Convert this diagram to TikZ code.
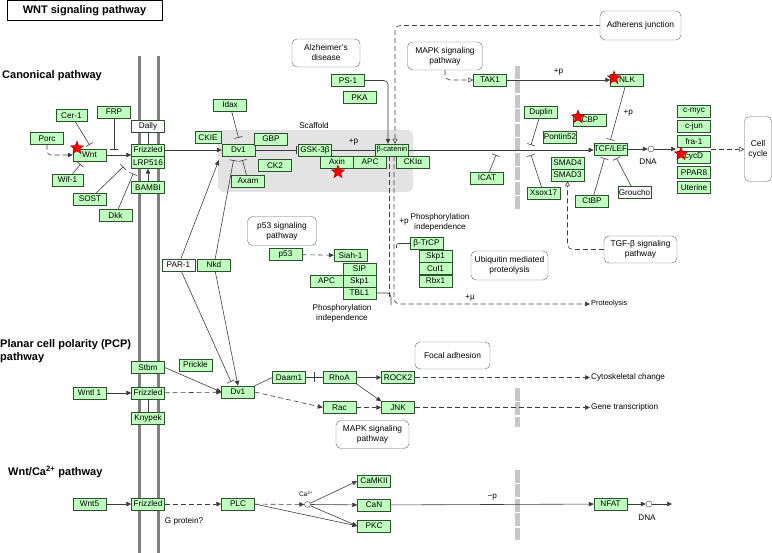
\documentclass[tikz,border=0pt]{standalone}
\usepackage{fontspec}
\setmainfont{Liberation Sans}
\usetikzlibrary{arrows.meta,shapes.geometric,calc}
\definecolor{genefill}{RGB}{191,255,191}
\definecolor{geneline}{RGB}{45,80,45}
\definecolor{linkgray}{RGB}{60,60,60}

\begin{document}
\begin{tikzpicture}[x=1pt, y=-1pt, >={Triangle[length=5pt,width=4.5pt]}, font=\fontsize{8.2}{9.8}\selectfont]

    \tikzset{%
    gene/.style={
        draw=geneline,
        fill=genefill,
        minimum width=33pt,
        minimum height=12pt,
        inner sep=0pt
        },
    other/.style={gene, fill=white},
    map/.style={draw=gray!80!black, fill=white, rounded corners=5pt, align=center, inner sep=1pt, font=\fontsize{8.4}{10}\selectfont},
    note/.style={inner sep=1pt, align=center},
    heading/.style={font=\bfseries\fontsize{11}{13}\selectfont, align=left, inner sep=0pt},
    link/.style={draw=linkgray, line width=0.6pt},
    act/.style={link, ->},
    dact/.style={act, dash pattern=on 5pt off 3pt},
    inh/.style={link, -{Bar[width=8pt]}},
    assoc/.style={link, dash pattern=on 5pt off 3pt, -{Triangle[open,length=5pt,width=5pt]}},
    dnadot/.style={circle, draw=linkgray, fill=white, minimum size=6pt, inner sep=0pt},
    tick/.style={fill=linkgray, minimum width=0.7pt, minimum height=10pt, inner sep=0pt},
    redstar/.style={star, star points=5, star point ratio=2.4, fill=red, draw=red!60!black, minimum size=14pt, inner sep=0pt},
    membrane/.style={draw=gray, line width=3pt},
    nucleus/.style={draw=gray!45, line width=5pt, dash pattern=on 13pt off 1.5pt},
    }

    \useasboundingbox (0,0) rectangle (772,553);

    % Titles
    \node[draw, line width=1pt, minimum width=155pt, minimum height=20pt, font=\bfseries\fontsize{11}{13}\selectfont] (title) at (84.5,11) {WNT signaling pathway};
    \node[heading, anchor=west] (canon) at (2,76) {Canonical pathway};
    \node[heading, anchor=north west] (pcp) at (0,339) {Planar cell polarity (PCP)\\pathway};
    \node[heading, anchor=west] (capath) at (8,471.5) {Wnt/Ca\textsuperscript{2+} pathway};

    % Cell membrane and nuclear membrane
    \draw[membrane] (139,56) -- (139,553);
    \draw[membrane] (158,56) -- (158,553);
    \foreach \a/\b in {66/210, 388/427, 470/540}
    \draw[nucleus] (517,\a) -- (517,\b);

    % Scaffold
    \node[fill=gray!22, rounded corners=6pt, minimum width=195pt, minimum height=62pt] (scaffold) at (315.5,161) {};
    \node[note] (scaftxt) at (314,126) {Scaffold};

    % Canonical pathway
    \node[gene] (porc) at (47,138.5) {Porc};
    \node[gene, minimum width=31pt] (cer) at (71.5,115.5) {Cer-1};
    \node[gene] (frp) at (114,112) {FRP};
    \node[gene] (wnt) at (89.5,155) {Wnt};
    \node[gene, minimum width=31pt] (wif) at (67.5,180) {Wif-1};
    \node[gene] (sost) at (90,199) {SOST};
    \node[gene] (dkk) at (115.5,215.5) {Dkk};
    \node[other] (dally) at (148,126.5) {Dally};
    \node[gene] (fzd) at (148,150) {Frizzled};
    \node[gene] (lrp) at (148,162.5) {LRP516};
    \node[gene] (bambi) at (148,187.5) {BAMBI};
    \node[gene, minimum width=26pt] (ckie) at (208,137.5) {CKIE};
    \node[gene] (dvl) at (238.5,150) {Dv1};
    \node[gene] (idax) at (230,105) {Idax};
    \node[gene] (gbp) at (271,139) {GBP};
    \node[gene] (ck2) at (275,165.5) {CK2};
    \node[gene] (axam) at (248,181) {Axam};
    \node[gene] (gsk) at (315,150) {GSK-3β};
    \node[gene] (axin) at (337,162) {Axin};
    \node[gene] (apc) at (370,162) {APC};
    \node[gene, font=\fontsize{7.4}{8}\selectfont] (bcat) at (392,150) {β-catenin};
    \node[gene] (ckia) at (413,162) {CKIα};
    \node[gene] (ps1) at (348,80.5) {PS-1};
    \node[gene] (pka) at (359.5,97.5) {PKA};
    \node[map, minimum width=68pt, minimum height=28pt] (alz) at (326,53) {Alzheimer's\\disease};
    \node[map, minimum width=75pt, minimum height=28pt] (mapka) at (445,56) {MAPK signaling\\pathway};
    \node[gene] (tak1) at (490,80) {TAK1};
    \node[map, minimum width=81pt, minimum height=29pt] (adh) at (640.5,25.5) {Adherens junction};
    \node[gene] (nlk) at (627,80) {NLK};
    \node[gene] (duplin) at (541,112) {Duplin};
    \node[gene] (cbp) at (590,120) {CBP};
    \node[gene] (pontin) at (560,137) {Pontin52};
    \node[gene] (tcf) at (610.5,149) {TCF/LEF};
    \node[gene] (icat) at (487,178) {ICAT};
    \node[gene] (xsox) at (543.5,193) {Xsox17};
    \node[gene] (smad4) at (567.5,163) {SMAD4};
    \node[gene] (smad3) at (567.5,175) {SMAD3};
    \node[gene] (ctbp) at (592,201) {CtBP};
    \node[other] (groucho) at (634.5,192.5) {Groucho};
    \node[dnadot] (dna1) at (651,149) {};
    \node[note] (dnatxt1) at (648,162) {DNA};

    % Target genes
    \foreach \g [count=\i] in {c-myc,c-jun,fra-1,cycD,PPAR8,Uterine}
    \node[gene] (tgt-\i) at (694,{95.7+15.3*\i}) {\g};
    \node[map, minimum width=27pt, minimum height=65pt] (cell) at (758,149) {Cell\\cycle};

    \node[other] (par1) at (178.5,265) {PAR-1};
    \node[gene] (nkd) at (214,265) {Nkd};
    \node[map, minimum width=69pt, minimum height=29pt] (p53map) at (282,231) {p53 signaling\\pathway};
    \node[gene] (p53) at (285.5,254.5) {p53};
    \node[gene] (siah) at (350.5,255.5) {Siah-1};
    \node[gene] (sip) at (359.5,269) {SIP};
    \node[gene] (skp1b) at (359.5,281) {Skp1};
    \node[gene] (apcb) at (326.5,281) {APC};
    \node[gene] (tbl1) at (359.5,293) {TBL1};
    \node[note] (phosb) at (342,313) {Phosphorylation\\independence};
    \node[gene] (btrcp) at (426.5,243.5) {β-TrCP};
    \node[gene] (skp1) at (435.5,256) {Skp1};
    \node[gene] (cul1) at (435.5,268.5) {Cul1};
    \node[gene] (rbx1) at (435.5,281) {Rbx1};
    \node[note] (phosa) at (440,222) {Phosphorylation\\independence};
    \node[note] (plab) at (404,222) {+p};
    \node[note] (mulab) at (470,298) {+μ};
    \node[map, minimum width=77pt, minimum height=29pt] (ubiq) at (509.5,265.5) {Ubiquitin mediated\\proteolysis};
    \node[map, minimum width=73pt, minimum height=27pt] (tgfb) at (640.5,249.5) {TGF-β signaling\\pathway};
    \node[note, anchor=west, font=\fontsize{7.4}{8}\selectfont] (proteo) at (590,304) {Proteolysis};

    % PCP pathway
    \node[gene] (stbm) at (148,367.5) {Stbm};
    \node[gene] (prickle) at (195.5,365) {Prickle};
    \node[gene] (wnt11) at (89.5,393) {Wntl 1};
    \node[gene] (fzdp) at (148,393) {Frizzled};
    \node[gene] (knypek) at (148,418) {Knypek};
    \node[gene] (dvlp) at (238,392) {Dv1};
    \node[gene] (daam) at (289,377.5) {Daam1};
    \node[gene] (rhoa) at (339.5,377.5) {RhoA};
    \node[gene] (rock) at (398,377.5) {ROCK2};
    \node[gene] (rac) at (339.5,407.5) {Rac};
    \node[gene] (jnk) at (398,407.5) {JNK};
    \node[map, minimum width=75pt, minimum height=27pt] (focal) at (452.5,355.5) {Focal adhesion};
    \node[map, minimum width=73pt, minimum height=28pt] (mapkb) at (372.5,434.5) {MAPK signaling\\pathway};
    \node[note, anchor=west] (cyto) at (590,377.5) {Cytoskeletal change};
    \node[note, anchor=west] (genetx) at (590,407.5) {Gene transcription};

    % Wnt/Ca2+ pathway
    \node[gene] (wnt5) at (89.5,504) {Wnt5};
    \node[gene] (fzdc) at (148,504) {Frizzled};
    \node[gene] (plc) at (238,504) {PLC};
    \node[note] (gprot) at (184,521) {G protein?};
    \node[dnadot] (ca) at (307.5,504.5) {};
    \node[note, font=\fontsize{6.5}{7}\selectfont] (calab) at (306,494) {Ca\textsuperscript{2+}};
    \node[gene] (camk) at (374,481) {CaMKII};
    \node[gene] (can) at (374,505) {CaN};
    \node[gene] (pkc) at (374,526) {PKC};
    \node[gene] (nfat) at (610.5,504) {NFAT};
    \node[dnadot] (dna2) at (649,504) {};
    \node[note] (dnatxt2) at (647,518) {DNA};

    % Free ends of connectors
    \coordinate (dupbar) at (531,145);
    \coordinate (icatbar) at (496,155);
    \coordinate (soxbar) at (531,155);
    \coordinate (ubq) at (389,300);
    \coordinate (tblj) at (391,305);
    \coordinate (btj) at (396.5,248);
    \coordinate (tgtin) at (676,149);
    \coordinate (tgtout) at ($(tgt-3.south east)!0.5!(tgt-4.north east)$);
    \coordinate (out2) at (672,504);

    % Canonical connectors
    \draw[dact, rounded corners=4pt] (porc.south) |- (wnt.west);
    \draw[inh] (cer) -- ([yshift=4pt]wnt.north);
    \draw[inh] (frp) -- (frp |- fzd.west);
    \draw[inh] (wif) -- ([xshift=-9pt,yshift=-3pt]wnt.south);
    \draw[act] (wnt.east) -- (wnt.east -| fzd.west);
    \draw[inh] (sost) -- ([xshift=-8pt,yshift=2pt]lrp.south west);
    \draw[inh] (dkk) -- ([xshift=2pt,yshift=-5pt]lrp.south west);
    \draw[act] (bambi) -- (lrp);
    \draw[link] (dally) -- (fzd);
    \draw[act] (fzd) -- (dvl);
    \draw[inh] (idax) -- ([yshift=6pt]dvl.north);
    \draw[inh] (axam) -- ([xshift=4pt,yshift=-4pt]dvl.south);
    \draw[act] (par1) -- ([xshift=-3pt,yshift=-4pt]dvl.south west);
    \draw[inh] (nkd) -- ([xshift=-5pt,yshift=-4pt]dvl.south);
    \draw[inh] (dvl) -- ([xshift=-2pt]gsk.west);
    \draw[inh] (gsk) -- node[above=1pt] {+p} (bcat);
    \draw[act, rounded corners=4pt] (ps1.east) -| ([xshift=-4pt]bcat.north);
    \draw[assoc, {Triangle[open,length=5pt,width=5pt]}-, rounded corners=5pt] ([xshift=3pt]bcat.north) |- (adh.west);
    \draw[link, dash pattern=on 5pt off 3pt] ([xshift=-3pt]bcat.south) -- (ubq);
    \draw[dact, rounded corners=5pt] ([xshift=2pt]bcat.south) |- (proteo.west);
    \draw[link, rounded corners=4pt] (tbl1.east) -| (tblj);
    \draw[link, rounded corners=2pt] (btj) |- (btrcp.west);
    \draw[dact] (p53) -- (siah);
    \draw[assoc, rounded corners=5pt] (mapka.south) |- (tak1.west);
    \draw[act] (tak1) -- node[above=1pt] {+p} (nlk);
    \draw[inh] (nlk) -- node[right=2pt] {+p} ([yshift=3pt]tcf.north);
    \draw[act] (bcat.east) -- (bcat.east -| tcf.west);
    \draw[inh] (duplin) -- (dupbar);
    \draw[inh] (icat) -- (icatbar);
    \draw[inh] (xsox) -- (soxbar);
    \draw[assoc, rounded corners=5pt] (tgfb.west) -| (smad3.south);
    \draw[inh] (ctbp) -- ([xshift=-6pt,yshift=-3pt]tcf.south);
    \draw[inh] (groucho) -- ([xshift=6pt,yshift=-3pt]tcf.south);
    \draw[act] (tcf) -- (dna1);
    \draw[act] (dna1) -- (tgtin);
    \draw[assoc] (tgtout) -- (tgtout -| cell.west);

    % PCP connectors
    \draw[act] (wnt11) -- (fzdp);
    \draw[dact] (fzdp) -- (dvlp);
    \draw[act] (stbm.east) -- (dvlp.west);
    \draw[link] (fzdp) -- (knypek);
    \draw[inh] (par1) -- ([xshift=-7pt,yshift=4pt]dvlp.north);
    \draw[act] (nkd) -- (dvlp.north);
    \draw[link] (dvlp.north east) -- (daam.west);
    \draw[link] (daam) -- node[tick] {} (rhoa);
    \draw[act] (rhoa) -- (rock);
    \draw[act] (rhoa.south east) -- (jnk.north west);
    \draw[dact] (dvlp.east) -- (rac.west);
    \draw[dact] (rac) -- (jnk);
    \draw[dact] (rock) -- (cyto);
    \draw[dact] (jnk) -- (genetx);

    % Wnt/Ca2+ connectors
    \draw[act] (wnt5) -- (fzdc);
    \draw[dact] (fzdc) -- (plc);
    \draw[dact] (plc) -- (ca);
    \draw[act] (plc.east) -- (pkc.west);
    \draw[act] (ca) -- (camk.west);
    \draw[act] (ca) -- (can);
    \draw[act] (ca) -- (pkc.west);
    \draw[act] (can) -- node[above=1pt] {−p} (nfat);
    \draw[act] (nfat) -- (dna2);
    \draw[act] (dna2) -- (out2);

    % Stars
    \foreach \x/\y [count=\i] in {77/148, 338/172, 614/78, 578/117, 681/154}
    \node[redstar] (star-\i) at (\x,\y) {};

\end{tikzpicture}
\end{document}
